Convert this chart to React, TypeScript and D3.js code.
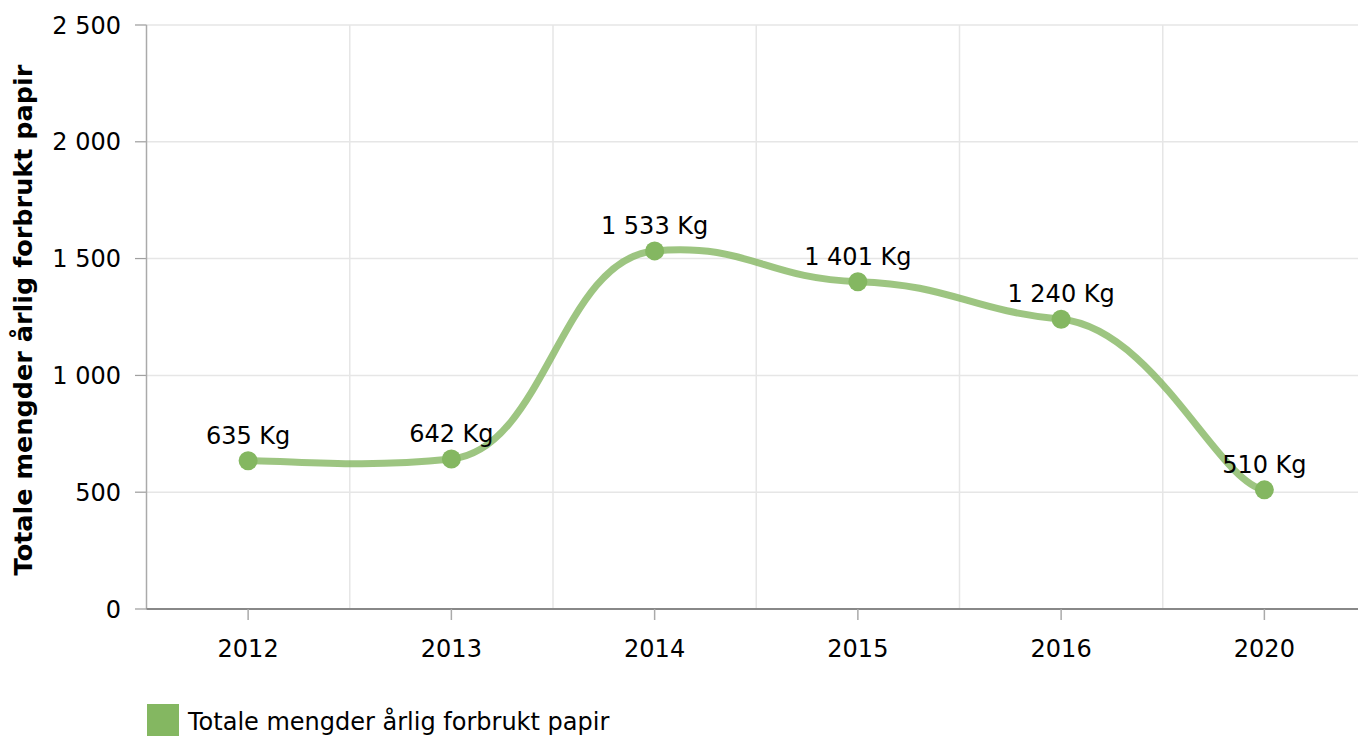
import React from 'react';
import {scaleBand, scaleLinear, path as d3path} from 'd3';

const years = ['2012', '2013', '2014', '2015', '2016', '2020'];
const values = [635, 642, 1533, 1401, 1240, 510];
const yTicks = [0, 500, 1000, 1500, 2000, 2500];
const seriesName = 'Totale mengder årlig forbrukt papir';

const fmt = (v: number) => String(v).replace(/\B(?=(\d{3})+(?!\d))/g, ' ');

// tension smoothing, separate x / y tension (like a smoothed line series)
const tensionPath = (pts: [number, number][], tx: number, ty: number) => {
  const kx = 1 - tx, ky = 1 - ty;
  const p = d3path();
  p.moveTo(pts[0][0], pts[0][1]);
  for (let i = 0; i < pts.length - 1; i++) {
    const p0 = pts[i - 1] || pts[i];
    const p1 = pts[i];
    const p2 = pts[i + 1];
    const p3 = pts[i + 2] || pts[i + 1];
    p.bezierCurveTo(
      p1[0] + kx * (p2[0] - p0[0]), p1[1] + ky * (p2[1] - p0[1]),
      p2[0] - kx * (p3[0] - p1[0]), p2[1] - ky * (p3[1] - p1[1]),
      p2[0], p2[1]);
  }
  return p.toString();
};

const App = () => {
  const W = 1358, H = 736;
  const left = 146.5, right = 1366, top = 25, bottom = 609;
  const font = 'DejaVu Sans, Verdana, sans-serif';
  const fs = 24;

  const x = scaleBand().domain(years).range([left, right]);
  const y = scaleLinear().domain([0, 2500]).range([bottom, top]);
  const cx = (d: string) => (x(d) as number) + x.bandwidth() / 2;

  const pts = values.map((v, i) => [cx(years[i]), y(v)] as [number, number]);
  const linePath = tensionPath(pts, 0.77, 0.955);

  return (
    <svg width={W} height={H} style={{position: 'absolute', left: 0, top: 0, fontFamily: font}}>
      <rect width={W} height={H} fill="#fff"/>
      {yTicks.map(t => (
        <g key={t}>
          <line x1={135} x2={W} y1={y(t)} y2={y(t)} stroke="#e6e6e6" strokeWidth={1.5}/>
          <line x1={135} x2={left} y1={y(t)} y2={y(t)} stroke="#999"/>
          <text x={121} y={y(t)} dy="0.36em" textAnchor="end" fontSize={fs} fill="#000">{fmt(t)}</text>
        </g>
      ))}
      {years.slice(1).map(d => (
        <line key={d} x1={x(d)} x2={x(d)} y1={top} y2={bottom} stroke="#e6e6e6" strokeWidth={1.5}/>
      ))}
      <line x1={left} x2={left} y1={top} y2={bottom} stroke="#aaa" strokeWidth={1.5}/>
      <line x1={left} x2={W} y1={bottom} y2={bottom} stroke="#888" strokeWidth={2}/>
      {years.map(d => (
        <g key={d}>
          <line x1={cx(d)} x2={cx(d)} y1={bottom} y2={bottom + 11} stroke="#aaa" strokeWidth={1.5}/>
          <text x={cx(d)} y={657} textAnchor="middle" fontSize={fs} fill="#000">{d}</text>
        </g>
      ))}
      <text transform={`translate(32, ${(top + bottom) / 2 + 3}) rotate(-90)`} textAnchor="middle"
        fontSize={25.5} fontWeight="bold" fill="#000">{seriesName}</text>
      <path d={linePath} fill="none" stroke="#84b761" strokeOpacity={0.8} strokeWidth={7} strokeLinecap="round"/>
      {values.map((v, i) => (
        <g key={i}>
          <circle cx={pts[i][0]} cy={pts[i][1]} r={9.5} fill="#84b761"/>
          <text x={pts[i][0]} y={pts[i][1] - 17} textAnchor="middle" fontSize={fs} fill="#000">{fmt(v)} Kg</text>
        </g>
      ))}
      <rect x={147} y={704} width={32} height={32} fill="#84b761"/>
      <text x={188} y={730} fontSize={fs} fill="#000">{seriesName}</text>
    </svg>
  );
};

export default App;
